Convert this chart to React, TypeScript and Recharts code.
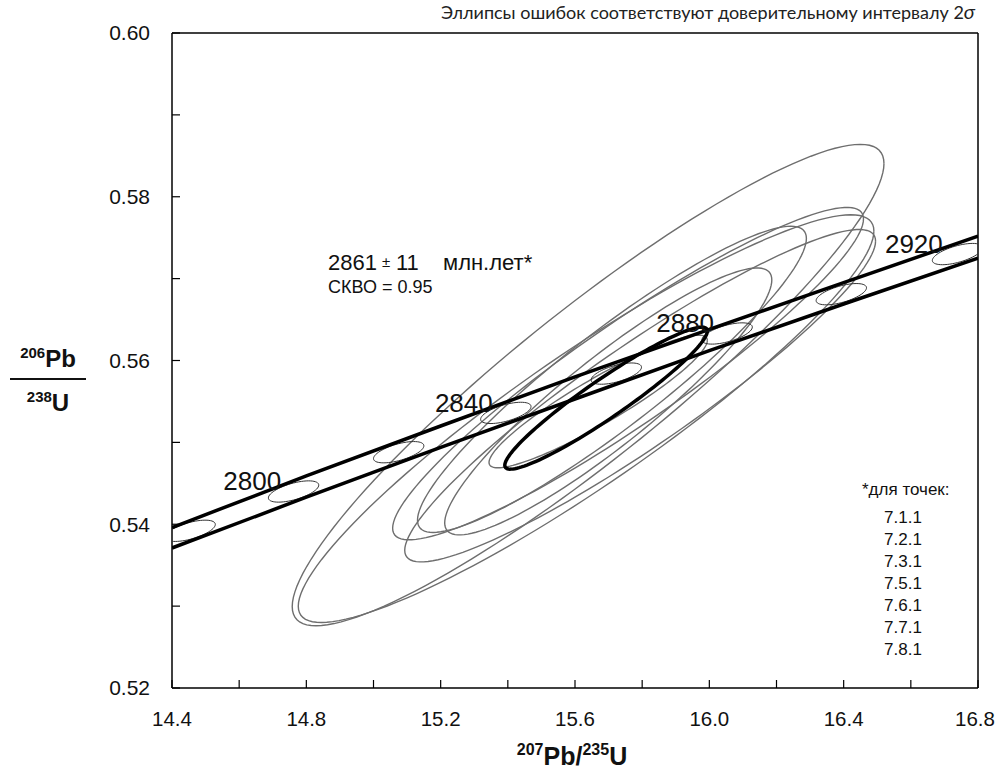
import React from 'react';
import { ComposedChart, Scatter, XAxis, YAxis, ReferenceLine } from 'recharts';

const W = 996;
const H = 771;
const FONT = '"Liberation Sans", Arial, sans-serif';

const xTicks = [14.4, 14.6, 14.8, 15.0, 15.2, 15.4, 15.6, 15.8, 16.0, 16.2, 16.4, 16.6, 16.8];
const yTicks = [0.52, 0.53, 0.54, 0.55, 0.56, 0.57, 0.58, 0.59, 0.6];

// concordia band (upper / lower edge)
const bandX = [14.4, 14.8, 15.2, 15.6, 16.0, 16.4, 16.8];
const bandUpper = [0.5396, 0.5459, 0.552, 0.558, 0.5638, 0.5695, 0.5752];
const bandLower = [0.5371, 0.5433, 0.5494, 0.5553, 0.5612, 0.5669, 0.5725];

// age marks on concordia, Ma
const markAges = [2780, 2800, 2820, 2840, 2860, 2880, 2900, 2920];
const markX = [14.454, 14.762, 15.075, 15.394, 15.723, 16.053, 16.393, 16.739];
const markY = [0.5392, 0.544, 0.5488, 0.5536, 0.5584, 0.5633, 0.5681, 0.573];

const labelAges = ['2800', '2840', '2880', '2920'];
const labelX = [14.639, 15.269, 15.928, 16.609];
const labelY = [0.5442, 0.5537, 0.5635, 0.5731];

// analyses (2 sigma ellipses): centre, half extents, rho
const sampleIds = ['7.1.1', '7.2.1', '7.3.1', '7.5.1', '7.6.1', '7.7.1', '7.8.1'];
const ellCx = [15.639, 15.633, 15.758, 15.794, 15.71, 15.699, 15.669];
const ellCy = [0.557, 0.5529, 0.5584, 0.5557, 0.5577, 0.555, 0.555];
const ellA = [0.881, 0.857, 0.701, 0.701, 0.579, 0.487, 0.325];
const ellB = [0.0294, 0.0249, 0.0203, 0.0203, 0.0187, 0.0163, 0.0081];
const ellRho = [0.92, 0.92, 0.93, 0.93, 0.92, 0.91, 0.92];

// concordia age ellipse
const meanEll = { cx: 15.6925, cy: 0.5554, a: 0.3015, b: 0.00867, rho: 0.945 };

function ellipse(cx: number, cy: number, a: number, b: number, rho: number, n = 140) {
  const s = Math.sqrt(1 - rho * rho);
  const pts = [];
  for (let i = 0; i <= n; i++) {
    const t = (2 * Math.PI * i) / n;
    pts.push({ x: cx + a * Math.cos(t), y: cy + b * (rho * Math.cos(t) + s * Math.sin(t)) });
  }
  return pts;
}

const upperData = bandX.map((x, i) => ({ x, y: bandUpper[i] }));
const lowerData = bandX.map((x, i) => ({ x, y: bandLower[i] }));
const labelData = labelAges.map((age, i) => ({ x: labelX[i], y: labelY[i], age }));

const noDot = () => <g />;

const AgeLabel = (p: any) => (
  <text x={p.cx} y={p.cy} textAnchor="middle" fontSize={26} fontFamily={FONT} fill="#111">
    {p.payload.age}
  </text>
);

const XTick = (p: any) => {
  const v = p.payload.value;
  if (Math.round(v * 10) % 4 !== 0) return <g />;
  // last label sits against the window edge
  const shift = v > 16.7 ? -3 : 0;
  return (
    <text x={p.x + shift} y={p.y} dy="0.71em" textAnchor="middle" fontSize={20.5} fontFamily={FONT} fill="#111">
      {v.toFixed(1)}
    </text>
  );
};

const YTick = (p: any) => {
  const v = p.payload.value;
  if (Math.round(v * 100) % 2 !== 0) return <g />;
  return (
    <text x={p.x} y={p.y} dy="0.355em" textAnchor="end" fontSize={21} fontFamily={FONT} fill="#111">
      {v.toFixed(2)}
    </text>
  );
};

export default function App() {
  return (
    <div style={{ position: 'absolute', left: 0, top: 0, width: W, height: H, background: '#fff' }}>
      <ComposedChart width={W} height={H} margin={{ top: 33, right: 18, left: 112, bottom: 53 }}>
        <XAxis
          type="number"
          dataKey="x"
          domain={[14.4, 16.8]}
          ticks={xTicks}
          allowDataOverflow
          height={30}
          tickSize={-8}
          tickMargin={31}
          tick={XTick}
          axisLine={{ stroke: '#000', strokeWidth: 1.5 }}
          tickLine={{ stroke: '#000', strokeWidth: 1.2 }}
          interval={0}
        />
        <YAxis
          type="number"
          dataKey="y"
          domain={[0.52, 0.6]}
          ticks={yTicks}
          allowDataOverflow
          width={60}
          tickSize={-8}
          tickMargin={30}
          tick={YTick}
          axisLine={{ stroke: '#000', strokeWidth: 1.5 }}
          tickLine={{ stroke: '#000', strokeWidth: 1.2 }}
          interval={0}
        />
        <ReferenceLine y={0.6} stroke="#000" strokeWidth={1.5} />
        <ReferenceLine x={16.8} stroke="#000" strokeWidth={1.5} />

        {sampleIds.map((id, i) => (
          <Scatter
            key={id}
            name={id}
            data={ellipse(ellCx[i], ellCy[i], ellA[i], ellB[i], ellRho[i])}
            line={{ stroke: '#6e6e6e', strokeWidth: 1.4 }}
            lineType="joint"
            shape={noDot}
            isAnimationActive={false}
          />
        ))}

        {markAges.map((age, i) => (
          <Scatter
            key={'m' + age}
            data={ellipse(markX[i], markY[i], 0.075, 0.0013, 0.6, 60)}
            line={{ stroke: '#333', strokeWidth: 1 }}
            lineType="joint"
            shape={noDot}
            isAnimationActive={false}
          />
        ))}

        <Scatter data={upperData} line={{ stroke: '#000', strokeWidth: 3.5 }} lineType="joint" shape={noDot} isAnimationActive={false} />
        <Scatter data={lowerData} line={{ stroke: '#000', strokeWidth: 3.5 }} lineType="joint" shape={noDot} isAnimationActive={false} />

        <Scatter
          data={ellipse(meanEll.cx, meanEll.cy, meanEll.a, meanEll.b, meanEll.rho)}
          line={{ stroke: '#000', strokeWidth: 3.5 }}
          lineType="joint"
          shape={noDot}
          isAnimationActive={false}
        />

        <Scatter data={labelData} shape={AgeLabel} isAnimationActive={false} />
      </ComposedChart>

      <svg width={W} height={H} style={{ position: 'absolute', left: 0, top: 0, pointerEvents: 'none' }}>
        <text x={975} y={19} textAnchor="end" fontSize={18} fontFamily="Lato, 'Open Sans', sans-serif" fill="#222">
          Эллипсы ошибок соответствуют доверительному  интервалу 2<tspan fontStyle="italic" fontSize={20}>σ</tspan>
        </text>

        <text y={270} fontSize={22} fontFamily={FONT} fill="#111">
          <tspan x={328}>2861</tspan>
          <tspan x={382} fontSize={15} dy={-3}>±</tspan>
          <tspan x={396} dy={3}>11</tspan>
          <tspan x={443}>млн.лет*</tspan>
        </text>
        <text x={328} y={293} fontSize={18} fontFamily={FONT} fill="#111">
          СКВО = 0.95
        </text>

        <text x={862} y={495} fontSize={17} fontFamily={FONT} fill="#111">
          *для  точек:
        </text>
        {sampleIds.map((id, i) => (
          <text key={id} x={903} y={523 + i * 22} textAnchor="middle" fontSize={17} fontFamily={FONT} fill="#111">
            {id}
          </text>
        ))}

        <g fontFamily={FONT} fontWeight="bold" fill="#111">
          <text x={48} y={367} textAnchor="middle">
            <tspan fontSize={15} dy={-9}>206</tspan>
            <tspan fontSize={24} dy={9}>Pb</tspan>
          </text>
          <line x1={10} x2={86} y1={379} y2={379} stroke="#111" strokeWidth={2} />
          <text x={48} y={411} textAnchor="middle">
            <tspan fontSize={15} dy={-9}>238</tspan>
            <tspan fontSize={24} dy={9}>U</tspan>
          </text>
          <text x={572} y={765} textAnchor="middle">
            <tspan fontSize={16} dy={-10}>207</tspan>
            <tspan fontSize={25} dy={10}>Pb/</tspan>
            <tspan fontSize={16} dy={-10}>235</tspan>
            <tspan fontSize={25} dy={10}>U</tspan>
          </text>
        </g>
      </svg>
    </div>
  );
}
